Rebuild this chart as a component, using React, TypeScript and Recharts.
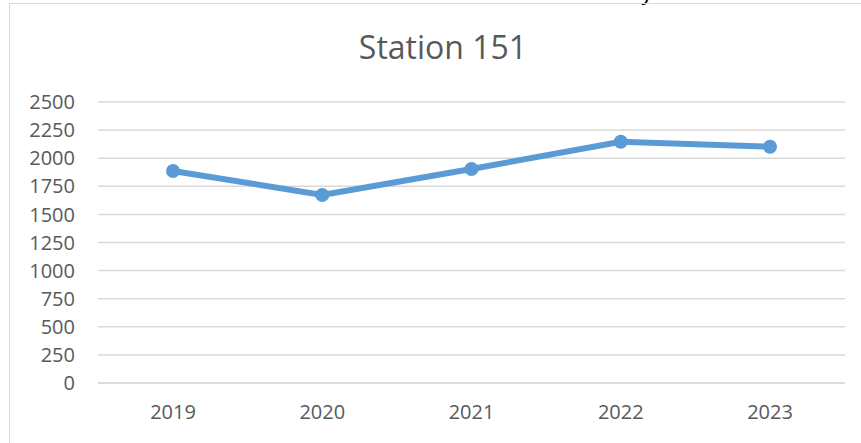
import { LineChart, Line, XAxis, YAxis, CartesianGrid } from "recharts";

const years = ["2019", "2020", "2021", "2022", "2023"];
const counts = [1886, 1673, 1904, 2147, 2102];
const yTicks = [0, 250, 500, 750, 1000, 1250, 1500, 1750, 2000, 2250, 2500];

const data = years.map((year, i) => ({ year, value: counts[i] }));

const FONT = "'Open Sans', sans-serif";
const TEXT = "#595959";
const GRID = "#d9d9d9";
const BLUE = "#5B9BD5";

export default function App() {
    return (
        <div
            style={{
                position: "fixed",
                left: 0,
                top: 0,
                width: 861,
                height: 443,
                overflow: "hidden",
                background: "#fff",
                fontFamily: FONT,
            }}
        >
            {/* tail of the document text above the chart */}
            <div
                style={{
                    position: "absolute",
                    left: 641,
                    top: -22,
                    fontSize: 24,
                    fontFamily: "'Liberation Sans', sans-serif",
                    color: "#000",
                }}
            >
                y
            </div>
            <div
                style={{
                    position: "absolute",
                    left: 9,
                    top: 3,
                    width: 900,
                    height: 500,
                    borderTop: `1.5px solid ${GRID}`,
                    borderLeft: `1.5px solid ${GRID}`,
                }}
            />
            <div
                style={{
                    position: "absolute",
                    left: 0,
                    top: 27,
                    width: 886,
                    textAlign: "center",
                    fontSize: 32,
                    color: TEXT,
                    lineHeight: "40px",
                }}
            >
                Station 151
            </div>
            <div style={{ position: "absolute", left: 0, top: 0 }}>
                <LineChart
                    width={861}
                    height={443}
                    data={data}
                    margin={{ top: 102, right: 16, left: 38, bottom: 20 }}
                >
                    <CartesianGrid vertical={false} stroke={GRID} strokeWidth={1.5} />
                    <XAxis
                        dataKey="year"
                        height={40}
                        padding={{ left: 75, right: 75 }}
                        axisLine={{ stroke: GRID, strokeWidth: 1.5 }}
                        tickLine={false}
                        tickSize={0}
                        tickMargin={22}
                        tick={{ fontSize: 20, fill: TEXT, fontFamily: FONT }}
                    />
                    <YAxis
                        width={60}
                        domain={[0, 2500]}
                        ticks={yTicks}
                        interval={0}
                        axisLine={false}
                        tickLine={false}
                        tickSize={0}
                        tickMargin={23}
                        tick={{ fontSize: 20, fill: TEXT, fontFamily: FONT }}
                    />
                    <Line
                        type="linear"
                        dataKey="value"
                        stroke={BLUE}
                        strokeWidth={6}
                        dot={{ r: 7, fill: BLUE, stroke: BLUE, strokeWidth: 0 }}
                        isAnimationActive={false}
                    />
                </LineChart>
            </div>
        </div>
    );
}
